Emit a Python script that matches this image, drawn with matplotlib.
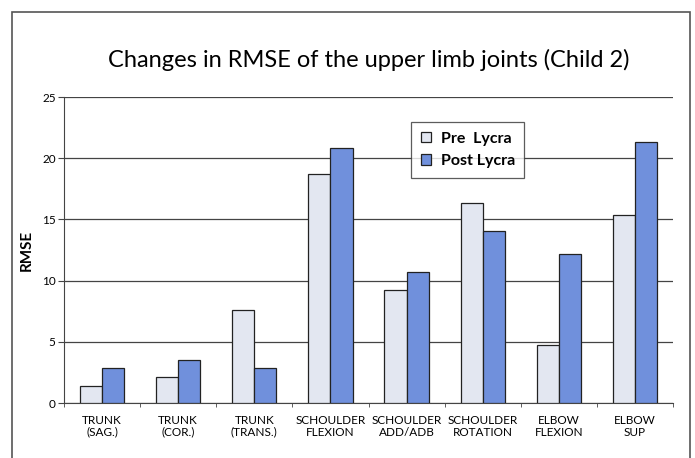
import matplotlib
matplotlib.use("Agg")
import matplotlib.pyplot as plt
import numpy as np
from matplotlib.patches import Rectangle

categories = ["TRUNK\n(SAG.)", "TRUNK\n(COR.)", "TRUNK\n(TRANS.)", "SCHOULDER\nFLEXION",
              "SCHOULDER\nADD/ADB", "SCHOULDER\nROTATION", "ELBOW\nFLEXION", "ELBOW\nSUP"]
pre_lycra = [1.4, 2.1, 7.6, 18.7, 9.2, 16.3, 4.7, 15.4]
post_lycra = [2.9, 3.5, 2.85, 20.8, 10.7, 14.05, 12.15, 21.3]
yticks = [0, 5, 10, 15, 20, 25]

plt.rcParams["font.family"] = ["Lato", "DejaVu Sans"]

fig = plt.figure(figsize=(6.95, 4.58), dpi=100)
fig.patch.set_facecolor("white")

# outer frame around the whole chart
fig.patches.append(Rectangle((12 / 695, -0.05), (690 - 12) / 695, 1.05 - 12 / 458,
                             transform=fig.transFigure, fill=False,
                             edgecolor="#555555", linewidth=1.2))

ax = fig.add_axes([64 / 695, 1 - 403 / 458, (673 - 64) / 695, (403 - 97) / 458])

x = np.arange(len(categories))
w = 0.29
ax.bar(x - w / 2, pre_lycra, w, color="#e3e7f1", edgecolor="#222222", linewidth=0.9,
       label="Pre  Lycra", zorder=3)
ax.bar(x + w / 2, post_lycra, w, color="#7090dc", edgecolor="#222222", linewidth=0.9,
       label="Post Lycra", zorder=3)

ax.set_xlim(-0.5, len(categories) - 0.5)
ax.set_ylim(0, 25)
ax.set_yticks(yticks)
ax.set_yticklabels([str(v) for v in yticks], fontsize=8.5)
ax.yaxis.grid(True, color="#444444", linewidth=0.9, zorder=0)
ax.set_axisbelow(True)

ax.set_xticks(x)
ax.set_xticklabels(categories, fontsize=8.5, linespacing=1.0)
ax.tick_params(axis="x", length=0, pad=9)
ax.set_xticks(np.arange(len(categories) + 1) - 0.5, minor=True)
ax.tick_params(axis="x", which="minor", length=3, color="#444444")
ax.tick_params(axis="y", length=4, color="#444444", pad=2)

for side in ["top", "right"]:
    ax.spines[side].set_visible(False)
ax.spines["left"].set_color("#444444")
ax.spines["bottom"].set_color("#444444")

ax.set_ylabel("RMSE", fontsize=11, fontweight="bold", labelpad=6)

fig.text(369 / 695, 1 - 60 / 458, "Changes in RMSE of the upper limb joints (Child 2)",
         ha="center", va="center", fontsize=17)

leg = ax.legend(loc="upper left", bbox_to_anchor=((411 - 64) / 609, (403 - 122) / 306),
                borderaxespad=0, frameon=True, fancybox=False, edgecolor="#333333",
                prop={"size": 11.5, "weight": "bold"}, handlelength=0.65, handleheight=0.65,
                handletextpad=0.6, borderpad=0.6, labelspacing=0.55)
leg.get_frame().set_linewidth(0.9)

fig.savefig("out.png", dpi=100, facecolor="white")
